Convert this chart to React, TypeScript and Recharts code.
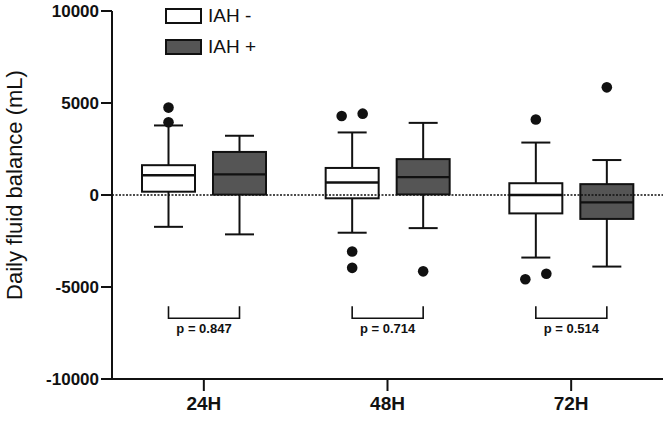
import React from "react";
import { ComposedChart, Bar, XAxis, YAxis, ReferenceLine, Legend } from "recharts";

const timepoints = ["24H", "48H", "72H"];

// IAH - : box-plot statistics per time point (mL)
const negLow = [-1730, -2050, -3400];
const negQ1 = [180, -180, -1000];
const negMedian = [1070, 680, 0];
const negQ3 = [1620, 1470, 640];
const negHigh = [3780, 3400, 2850];
const negOutliers = [[4750, 3950], [4290, 4420, -3070, -3960], [4100, -4580, -4280]];

// IAH + : box-plot statistics per time point (mL)
const posLow = [-2140, -1800, -3890];
const posQ1 = [20, 30, -1300];
const posMedian = [1120, 970, -400];
const posQ3 = [2340, 1950, 590];
const posHigh = [3220, 3920, 1900];
const posOutliers = [[], [-4150], [5850]];

const seriesNames = ["IAH -", "IAH +"];
const pValues = ["0.847", "0.714", "0.514"];
const bracketLevel = -6700;

const yTicks = [-10000, -5000, 0, 5000, 10000];

const FONT = "'Liberation Sans', Arial, Helvetica, sans-serif";
const INK = "#111";
const DARK = "#555555";
const BAR_SIZE = 55;
const BAR_GAP = 16;

interface BoxStats {
  low: number;
  q1: number;
  med: number;
  q3: number;
  high: number;
  out: number[];
}

const rows = timepoints.map((time, i) => ({
  time,
  p: pValues[i],
  neg: {
    low: negLow[i],
    q1: negQ1[i],
    med: negMedian[i],
    q3: negQ3[i],
    high: negHigh[i],
    out: negOutliers[i],
  } as BoxStats,
  pos: {
    low: posLow[i],
    q1: posQ1[i],
    med: posMedian[i],
    q3: posQ3[i],
    high: posHigh[i],
    out: posOutliers[i],
  } as BoxStats,
}));

// outliers that would overlap are spread sideways, lower value on the left
function placeOutliers(values: number[], toY: (v: number) => number) {
  const sorted = [...values].sort((a, b) => a - b);
  const groups: number[][] = [];
  sorted.forEach((v) => {
    const last = groups[groups.length - 1];
    if (last && Math.abs(toY(last[last.length - 1]) - toY(v)) < 9) last.push(v);
    else groups.push([v]);
  });
  const pts: { dx: number; y: number }[] = [];
  groups.forEach((g) => {
    g.forEach((v, i) => pts.push({ dx: (i - (g.length - 1) / 2) * 21, y: toY(v) }));
  });
  return pts;
}

const makeBoxShape = (group: "neg" | "pos", fill: string) => (props: any) => {
  const { x, y, width, height, payload } = props;
  const s: BoxStats = payload[group];
  const top = Math.min(y, y + height);
  const bottom = Math.max(y, y + height);
  const toY = (v: number) => top + ((s.high - v) / (s.high - s.low)) * (bottom - top);
  const cx = x + width / 2;
  const cap = 14.5;
  const yQ3 = toY(s.q3);
  const yQ1 = toY(s.q1);

  let bracket = null;
  if (group === "pos") {
    const left = cx - (width + BAR_GAP);
    const by = toY(bracketLevel);
    bracket = (
      <g>
        <path
          d={`M${left},${by - 12}V${by}H${cx}V${by - 12}`}
          fill="none"
          stroke={INK}
          strokeWidth={1.6}
        />
        <text
          x={(left + cx) / 2}
          y={by + 10}
          textAnchor="middle"
          dominantBaseline="central"
          fontFamily={FONT}
          fontWeight={700}
          fontSize={13}
          fill={INK}
        >
          {`p = ${payload.p}`}
        </text>
      </g>
    );
  }

  return (
    <g>
      <line x1={cx} x2={cx} y1={top} y2={yQ3} stroke={INK} strokeWidth={2} />
      <line x1={cx} x2={cx} y1={yQ1} y2={bottom} stroke={INK} strokeWidth={2} />
      <line x1={cx - cap} x2={cx + cap} y1={top} y2={top} stroke={INK} strokeWidth={2} />
      <line x1={cx - cap} x2={cx + cap} y1={bottom} y2={bottom} stroke={INK} strokeWidth={2} />
      <rect
        x={x + 1}
        y={yQ3}
        width={width - 2}
        height={yQ1 - yQ3}
        fill={fill}
        stroke={INK}
        strokeWidth={2}
      />
      <line
        x1={x + 1}
        x2={x + width - 1}
        y1={toY(s.med)}
        y2={toY(s.med)}
        stroke={INK}
        strokeWidth={2.4}
      />
      {placeOutliers(s.out, toY).map((pt, i) => (
        <circle key={i} cx={cx + pt.dx} cy={pt.y} r={5.3} fill={INK} />
      ))}
      {bracket}
    </g>
  );
};

const renderLegend = (props: any) => {
  const items = [...(props.payload || [])].sort(
    (a: any, b: any) => seriesNames.indexOf(a.value) - seriesNames.indexOf(b.value)
  );
  return (
    <div style={{ position: "relative", fontFamily: FONT }}>
      {items.map((entry: any, i: number) => (
        <div
          key={entry.value}
          style={{
            position: "absolute",
            left: 0,
            top: i * 31,
            display: "flex",
            alignItems: "center",
            whiteSpace: "nowrap",
          }}
        >
          <span
            style={{
              display: "inline-block",
              width: 33,
              height: 12,
              background: entry.color,
              border: `2px solid ${INK}`,
            }}
          />
          <span style={{ marginLeft: 6, fontSize: 19, color: INK, lineHeight: "16px" }}>
            {entry.value}
          </span>
        </div>
      ))}
    </div>
  );
};

const renderYTitle = (props: any) => {
  const vb = props.viewBox || { x: 0, y: 11, width: 112, height: 368 };
  const cx = 14;
  const cy = vb.y + vb.height / 2 - 10;
  return (
    <text
      x={cx}
      y={cy}
      transform={`rotate(-90, ${cx}, ${cy})`}
      textAnchor="middle"
      dominantBaseline="central"
      fontFamily={FONT}
      fontSize={22}
      fill={INK}
    >
      Daily fluid balance (mL)
    </text>
  );
};

export default function App() {
  return (
    <div style={{ position: "absolute", left: 0, top: 0, background: "#fff" }}>
      <ComposedChart
        width={666}
        height={424}
        data={rows}
        margin={{ top: 11, right: 3, bottom: 0, left: 0 }}
        barSize={BAR_SIZE}
        barGap={BAR_GAP}
      >
        <XAxis
          dataKey="time"
          height={45}
          tickSize={12}
          tickMargin={6}
          axisLine={{ stroke: INK, strokeWidth: 2 }}
          tickLine={{ stroke: INK, strokeWidth: 2 }}
          tick={{ fontSize: 19, fontWeight: 700, fill: INK, fontFamily: FONT }}
        />
        <YAxis
          width={112}
          domain={[-10000, 10000]}
          ticks={yTicks}
          interval={0}
          tickSize={11}
          tickMargin={2}
          axisLine={{ stroke: INK, strokeWidth: 2 }}
          tickLine={{ stroke: INK, strokeWidth: 2 }}
          tick={{ fontSize: 17, fontWeight: 700, fill: INK, fontFamily: FONT }}
          label={renderYTitle}
        />
        <Legend
          layout="vertical"
          align="center"
          verticalAlign="middle"
          content={renderLegend}
          wrapperStyle={{ top: 8, left: 165, width: 120, height: 50 }}
        />
        <Bar
          name={seriesNames[0]}
          dataKey={(r: any) => [r.neg.low, r.neg.high]}
          fill="#ffffff"
          shape={makeBoxShape("neg", "#ffffff")}
          isAnimationActive={false}
        />
        <Bar
          name={seriesNames[1]}
          dataKey={(r: any) => [r.pos.low, r.pos.high]}
          fill={DARK}
          shape={makeBoxShape("pos", DARK)}
          isAnimationActive={false}
        />
        <ReferenceLine y={0} stroke={INK} strokeWidth={1.5} strokeDasharray="2 1.5" />
      </ComposedChart>
    </div>
  );
}
